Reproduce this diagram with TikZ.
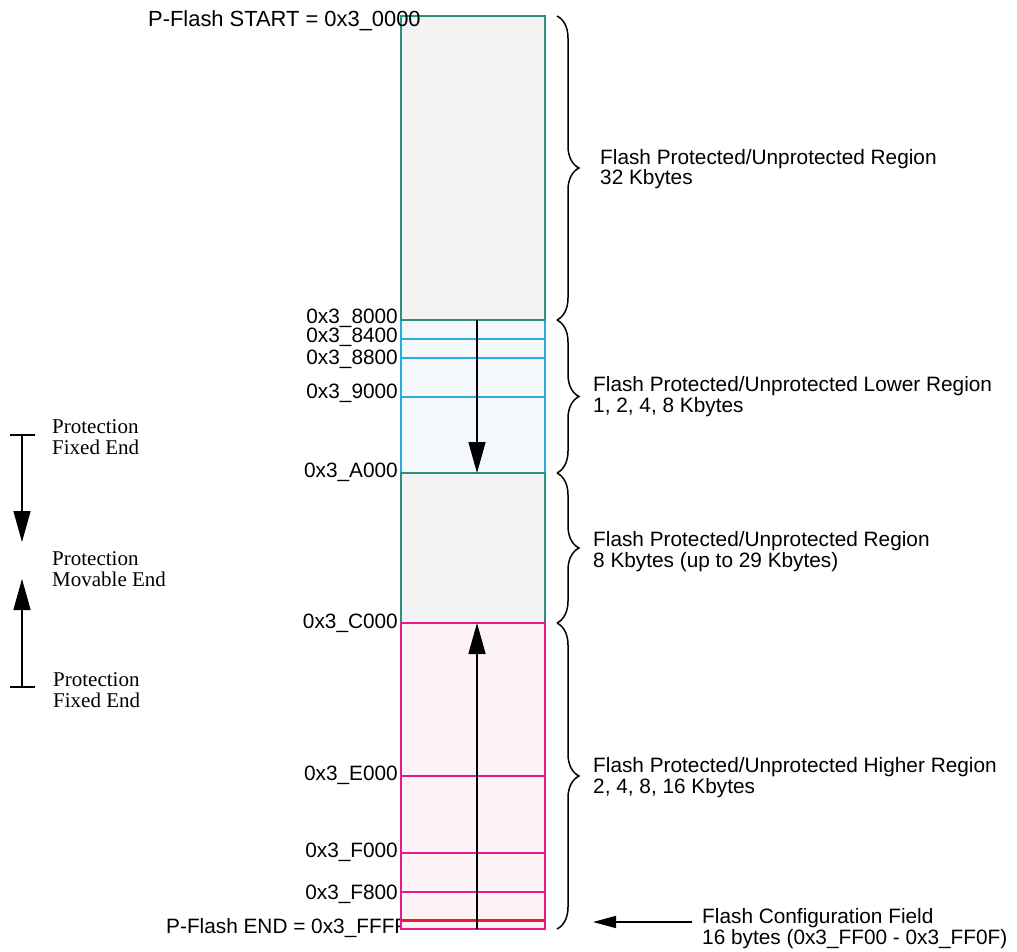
\documentclass[tikz,border=0pt]{standalone}
\usepackage{fontspec}
\setmainfont{Liberation Sans}
\newfontfamily\seriffont{Liberation Serif}
\usetikzlibrary{arrows.meta,decorations.pathreplacing}
\definecolor{tealc}{HTML}{2C9080}
\definecolor{bluec}{HTML}{29ABE2}
\definecolor{magc}{HTML}{E6198E}
\definecolor{redc}{HTML}{ED1C24}
\definecolor{greyfill}{HTML}{F2F3F2}
\definecolor{bluefill}{HTML}{F4F8FC}
\definecolor{pinkfill}{HTML}{FDF2F8}
\begin{document}
\begin{tikzpicture}[x=1pt,y=-1pt,
  sansf/.style={font=\fontsize{20.8}{20.5}\selectfont},
  hexlbl/.style={sansf,anchor=base east,inner sep=0pt},
  desc/.style={sansf,anchor=base west,inner sep=0pt,align=left},
  serlbl/.style={font=\seriffont\fontsize{21}{21}\selectfont,anchor=base west,inner sep=0pt,align=left},
  bigarrow/.style={line width=1.5pt,-{Triangle[width=17pt,length=31pt]}},
  smallarrow/.style={line width=1.5pt,-{Triangle[width=12pt,length=23pt]}},
  bracestyle/.style={line width=1.5pt,decorate,decoration={brace,amplitude=22pt,aspect=0.5}},
  memline/.style={line width=1.5pt}]
\useasboundingbox (0,0) rectangle (1017,952);

% end label (partly covered by the column, as in the original)
\node[sansf,anchor=base west,inner sep=0pt] (hend) at (166,933) {P-Flash END = 0x3\_FFFF};

% fills
\fill[greyfill] (401,16) rectangle (545,320);
\fill[bluefill] (401,320) rectangle (545,473);
\fill[greyfill] (401,473) rectangle (545,623);
\fill[pinkfill] (401,623) rectangle (545,929);

% blue region
\draw[memline,bluec] (401,320) -- (401,473) (545,320) -- (545,473);
\draw[memline,bluec] (401,339) -- (545,339) (401,358) -- (545,358) (401,397) -- (545,397);
% teal regions
\draw[memline,tealc] (401,320) -- (401,16) -- (545,16) -- (545,320) -- cycle;
\draw[memline,tealc] (401,623) -- (401,473) -- (545,473) -- (545,623);
% magenta region
\draw[memline,magc] (401,623) rectangle (545,929);
\draw[memline,magc] (401,776) -- (545,776) (401,853) -- (545,853) (401,892) -- (545,892);
% config field
\draw[line width=3pt,redc] (401,920) -- (545,920);

% arrows in column
\coordinate (dtop) at (477,320);
\coordinate (dbot) at (477,473);
\coordinate (utop) at (477,623);
\coordinate (ubot) at (477,929);
\draw[bigarrow] (dtop) -- (dbot);
\draw[bigarrow] (ubot) -- (utop);

% address labels
\node[font=\fontsize{21.9}{22}\selectfont,anchor=base west,inner sep=0pt] (start) at (148,27) {P-Flash START = 0x3\_0000};
\node[hexlbl] (h8000) at (398,323) {0x3\_8000};
\node[hexlbl] (h8400) at (398,342) {0x3\_8400};
\node[hexlbl] (h8800) at (398,364) {0x3\_8800};
\node[hexlbl] (h9000) at (398,398) {0x3\_9000};
\node[hexlbl] (hA000) at (398,477) {0x3\_A000};
\node[hexlbl] (hC000) at (398,628) {0x3\_C000};
\node[hexlbl] (hE000) at (398,780) {0x3\_E000};
\node[hexlbl] (hF000) at (398,857) {0x3\_F000};
\node[hexlbl] (hF800) at (398,899) {0x3\_F800};

% braces
\coordinate (b0) at (557,16);
\coordinate (b1) at (557,320);
\coordinate (b2) at (557,473);
\coordinate (b3) at (557,623);
\coordinate (b4) at (557,929);
\draw[bracestyle] (b0) -- (b1);
\draw[bracestyle] (b1) -- (b2);
\draw[bracestyle] (b2) -- (b3);
\draw[bracestyle] (b3) -- (b4);

% descriptions (anchored at the baseline of the last line)
\node[desc] (d1) at (600,185) {Flash Protected/Unprotected Region\\32 Kbytes};
\node[desc] (d2) at (593,412) {Flash Protected/Unprotected Lower Region\\1, 2, 4, 8 Kbytes};
\node[desc] (d3) at (593,567) {Flash Protected/Unprotected Region\\8 Kbytes (up to 29 Kbytes)};
\node[desc] (d4) at (593,793) {Flash Protected/Unprotected Higher Region\\2, 4, 8, 16 Kbytes};
\node[desc] (d5) at (702,944) {Flash Configuration Field\\16 bytes (0x3\_FF00 - 0x3\_FF0F)};
\coordinate (cfs) at (692,922);
\coordinate (cfe) at (593,922);
\draw[smallarrow] (cfs) -- (cfe);

% left legend
\coordinate (lt) at (22,435);
\coordinate (lta) at (22,542);
\coordinate (lb) at (22,687);
\coordinate (lba) at (22,579);
\draw[line width=1.5pt] (10,435) -- (35,435);
\draw[line width=1.5pt] (10,687) -- (35,687);
\draw[bigarrow] (lt) -- (lta);
\draw[bigarrow] (lb) -- (lba);
\node[serlbl] (p1) at (52,454) {Protection\\Fixed End};
\node[serlbl] (p2) at (52,586) {Protection\\Movable End};
\node[serlbl] (p3) at (53,707) {Protection\\Fixed End};
\end{tikzpicture}
\end{document}
